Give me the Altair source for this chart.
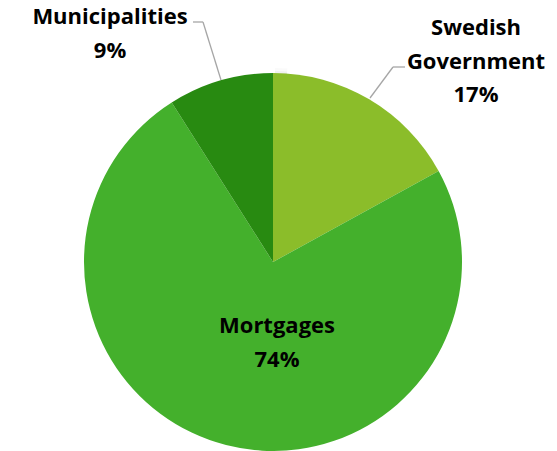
import altair as alt
import pandas as pd

# Funding sources (share of total, %)
categories = ["Swedish Government", "Mortgages", "Municipalities"]
shares = [17, 74, 9]
colors = ["#8BBD2A", "#44B02C", "#288A11"]

df = pd.DataFrame({
    "source": categories,
    "share": shares,
    "idx": list(range(len(categories))),
})

CX, CY, R = 273, 262, 189

base = alt.Chart(df)

# soft shadow ring around the pie
shadow_layers = []
for r_in, r_out, op in [(R, R + 2, 0.22), (R + 2, R + 4, 0.10), (R + 4, R + 7, 0.04)]:
    shadow_layers.append(
        alt.Chart(pd.DataFrame({"v": [1]})).mark_arc(
            color="#7a7a7a", opacity=op, innerRadius=r_in, outerRadius=r_out
        ).encode(theta=alt.Theta("v:Q"), x=alt.value(CX + 2), y=alt.value(CY + 2))
    )

pie = base.mark_arc(outerRadius=R, stroke=None).encode(
    theta=alt.Theta("share:Q", stack=True),
    order=alt.Order("idx:Q"),
    color=alt.Color("source:N", scale=alt.Scale(domain=categories, range=colors), legend=None),
    x=alt.value(CX),
    y=alt.value(CY),
)

font = "Open Sans"
fsize = 22

def label(lines, x, y0, step=33.5):
    layers = []
    for i, t in enumerate(lines):
        layers.append(
            alt.Chart(pd.DataFrame({"t": [t]})).mark_text(
                font=font, fontSize=fsize, fontWeight="bold", color="#000000",
                align="center", baseline="middle"
            ).encode(text="t:N", x=alt.value(x), y=alt.value(y0 + i * step))
        )
    return layers

gov_lines = ["Swedish", "Government", f"{shares[0]}%"]
mort_lines = ["Mortgages", f"{shares[1]}%"]
muni_lines = ["Municipalities", f"{shares[2]}%"]

texts = []
texts += label(gov_lines, 476, 28)
texts += label(mort_lines, 277, 326)
texts += label(muni_lines, 110, 17)

# leader lines
def seg(x1, y1, x2, y2):
    return alt.Chart(pd.DataFrame({"v": [0]})).mark_rule(
        color="#A6A6A6", strokeWidth=1.3
    ).encode(x=alt.value(x1), y=alt.value(y1), x2=alt.value(x2), y2=alt.value(y2))

leaders = [
    seg(193, 22, 203, 22), seg(203, 22, 221, 80),
    seg(370, 98, 393, 67), seg(393, 67, 405, 67),
]

chart = alt.layer(*shadow_layers, pie, *leaders, *texts).properties(
    width=557, height=451, padding=0, autosize="none"
).configure_view(stroke=None)

chart.save("out.html", embed_options={"renderer": "svg", "actions": False})
